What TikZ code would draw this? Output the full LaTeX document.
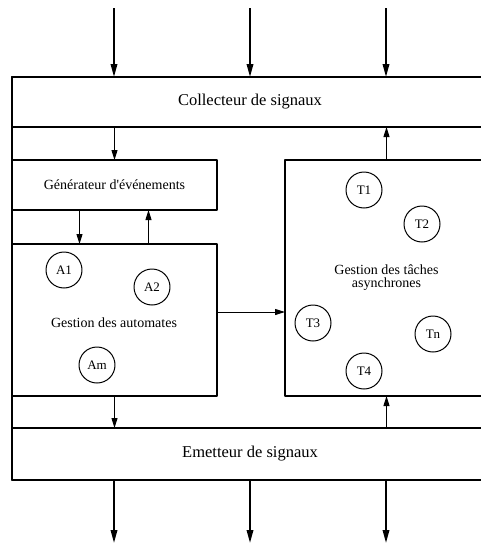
\documentclass[tikz,border=0pt]{standalone}
\usepackage{fontspec}
\setmainfont{Liberation Serif}
\usetikzlibrary{arrows.meta}
\begin{document}
\begin{tikzpicture}[x=1pt, y=-1pt, line join=round, >={Triangle[length=10pt,width=6pt]}]
	\tikzset{bloc/.style={draw, line width=1.2pt, inner sep=0pt, outer sep=0pt, font=\fontsize{14}{16}\selectfont, align=center},
		bande/.style={bloc, minimum width=476pt, font=\fontsize{16.5}{18}\selectfont},
		tache/.style={draw, circle, line width=1pt, minimum size=36pt, inner sep=0pt, font=\fontsize{13}{15}\selectfont},
		gros/.style={->, line width=1.8pt, >={Triangle[length=13pt,width=6.5pt]}},
		fin/.style={->, line width=1pt}}
	\useasboundingbox (0,0) rectangle (480,544);
	\node[bande, minimum height=50pt] (coll) at (250,102) {Collecteur de signaux};
	\node[bande, minimum height=52pt] (emit) at (250,454) {Emetteur de signaux};
	\node[bloc, minimum width=205pt, minimum height=50pt] (gen) at (114.5,185) {Générateur d\textquotesingle événements};
	\node[bloc, minimum width=205pt, minimum height=152pt] (auto) at (114.5,320) {};
	\node[font=\fontsize{14}{16}\selectfont] (autotxt) at (114,323) {Gestion des automates};
	\node[bloc, minimum width=203pt, minimum height=236pt] (taches) at (386.5,278) {Gestion des tâches\\[-3pt]asynchrones};
	\draw[line width=1.2pt] (coll.north west) rectangle (emit.south east);
	% automates
	\foreach \nom/\x/\y in {A1/64/270, A2/152/287, Am/97/365}
		\node[tache] (\nom) at (\x,\y) {\nom};
	% taches
	\foreach \nom/\x/\y in {T1/364/190, T2/422/224, T3/313/323, Tn/433/334, T4/364/371}
		\node[tache] (\nom) at (\x,\y) {\nom};
	% entrees et sorties
	\foreach \i/\x in {1/114, 2/250, 3/386}{
		\coordinate (in\i) at (\x,8);
		\coordinate (out\i) at (\x,543);
		\draw[gros] (in\i) -- (in\i |- coll.north);
		\draw[gros] (out\i |- emit.south) -- (out\i);
	}
	\draw[fin] (gen.north |- coll.south) -- (gen.north);
	\draw[fin] ([xshift=-35pt]gen.south) -- ([xshift=-35pt]gen.south |- auto.north);
	\draw[fin] ([xshift=34pt]gen.south |- auto.north) -- ([xshift=34pt]gen.south);
	\draw[fin] ([yshift=8pt]auto.east) -- ([yshift=8pt]auto.east -| taches.west);
	\draw[fin] (taches.north) -- (taches.north |- coll.south);
	\draw[fin] (auto.south) -- (auto.south |- emit.north);
	\draw[fin] (taches.south |- emit.north) -- (taches.south);
\end{tikzpicture}
\end{document}
